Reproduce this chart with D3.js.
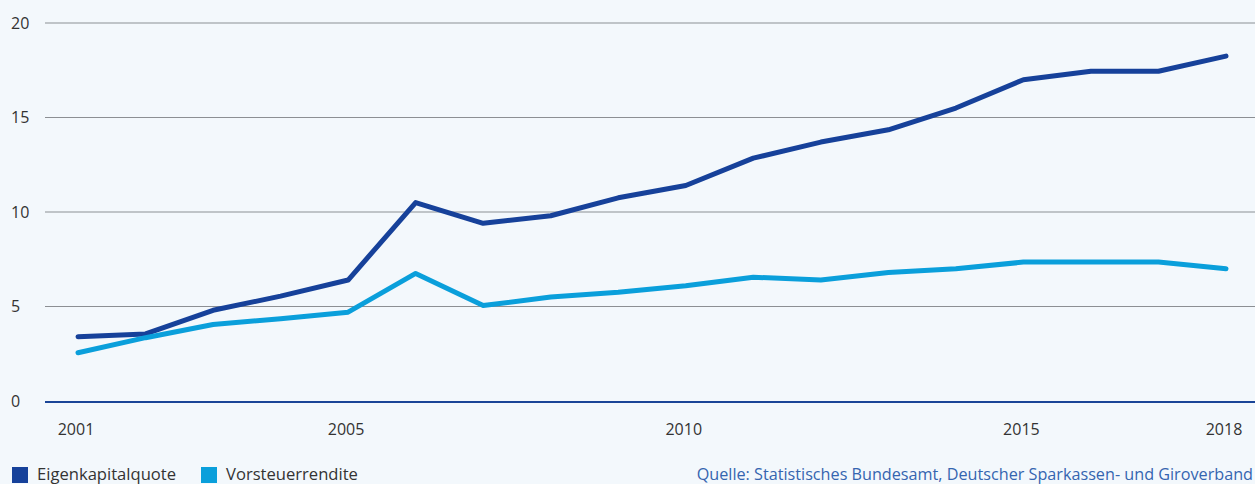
<!DOCTYPE html>
<html>
<head>
<meta charset="utf-8">
<script src="https://cdn.jsdelivr.net/npm/d3@7"></script>
<style>
  html, body { margin: 0; padding: 0; background: #f3f8fc; }
  svg { display: block; font-family: "Open Sans", "Noto Sans", sans-serif; }
</style>
</head>
<body>
<svg id="chart" width="1255" height="484"></svg>
<script>
// Jahre
const years = [2001, 2002, 2003, 2004, 2005, 2006, 2007, 2008, 2009, 2010,
               2011, 2012, 2013, 2014, 2015, 2016, 2017, 2018];
// Eigenkapitalquote in %
const eigenkapitalquote = [3.4, 3.55, 4.8, 5.55, 6.4, 10.5, 9.4, 9.8, 10.75, 11.4,
                           12.85, 13.7, 14.35, 15.5, 17.0, 17.45, 17.45, 18.25];
// Vorsteuerrendite in %
const vorsteuerrendite = [2.55, 3.35, 4.05, 4.35, 4.7, 6.75, 5.05, 5.5, 5.75, 6.1,
                          6.55, 6.4, 6.8, 7.0, 7.35, 7.35, 7.35, 7.0];
const xTicks = [2001, 2005, 2010, 2015, 2018];
const yTicks = [0, 5, 10, 15, 20];
const seriesNames = ["Eigenkapitalquote", "Vorsteuerrendite"];
const seriesColors = ["#16419a", "#0a9fdb"];
const sourceText = "Quelle: Statistisches Bundesamt, Deutscher Sparkassen- und Giroverband";

const svg = d3.select("#chart");
const W = 1255;

const x = d3.scaleLinear().domain([2001, 2018]).range([78, 1226]);
const y = d3.scaleLinear().domain([0, 20]).range([401, 23]);

// horizontal gridlines
svg.append("g")
  .selectAll("line")
  .data(yTicks.filter(d => d !== 0))
  .join("line")
  .attr("x1", 45).attr("x2", W)
  .attr("y1", d => y(d)).attr("y2", d => y(d))
  .attr("stroke", "#8c8f93").attr("stroke-width", 1.2);

// y tick labels
svg.append("g")
  .selectAll("text")
  .data(yTicks)
  .join("text")
  .attr("x", 11)
  .attr("y", d => y(d))
  .attr("dy", "0.36em")
  .attr("font-size", 16)
  .attr("fill", "#333")
  .text(d => d);

// zero line
svg.append("line")
  .attr("x1", 45).attr("x2", W)
  .attr("y1", y(0) + 1).attr("y2", y(0) + 1)
  .attr("stroke", "#1a4597").attr("stroke-width", 2.2);

// x tick labels
svg.append("g")
  .selectAll("text")
  .data(xTicks)
  .join("text")
  .attr("x", d => x(d) - 2)
  .attr("y", 435)
  .attr("text-anchor", "middle")
  .attr("font-size", 16)
  .attr("fill", "#333")
  .text(d => d);

// series lines
const line = d3.line().x((d, i) => x(years[i])).y(d => y(d));
[eigenkapitalquote, vorsteuerrendite].forEach((vals, k) => {
  svg.append("path")
    .datum(vals)
    .attr("d", line)
    .attr("fill", "none")
    .attr("stroke", seriesColors[k])
    .attr("stroke-width", 5)
    .attr("stroke-linejoin", "round")
    .attr("stroke-linecap", "round");
});

// legend
const legendX = [12, 201];
seriesNames.forEach((name, k) => {
  svg.append("rect")
    .attr("x", legendX[k]).attr("y", 467)
    .attr("width", 16).attr("height", 16)
    .attr("fill", seriesColors[k]);
  svg.append("text")
    .attr("x", legendX[k] + 25).attr("y", 480)
    .attr("font-size", 16.6)
    .attr("fill", "#333")
    .text(name);
});

// source
svg.append("text")
  .attr("x", 1253).attr("y", 480)
  .attr("text-anchor", "end")
  .attr("font-size", 16.2)
  .attr("fill", "#3565b0")
  .text(sourceText);
</script>
</body>
</html>
